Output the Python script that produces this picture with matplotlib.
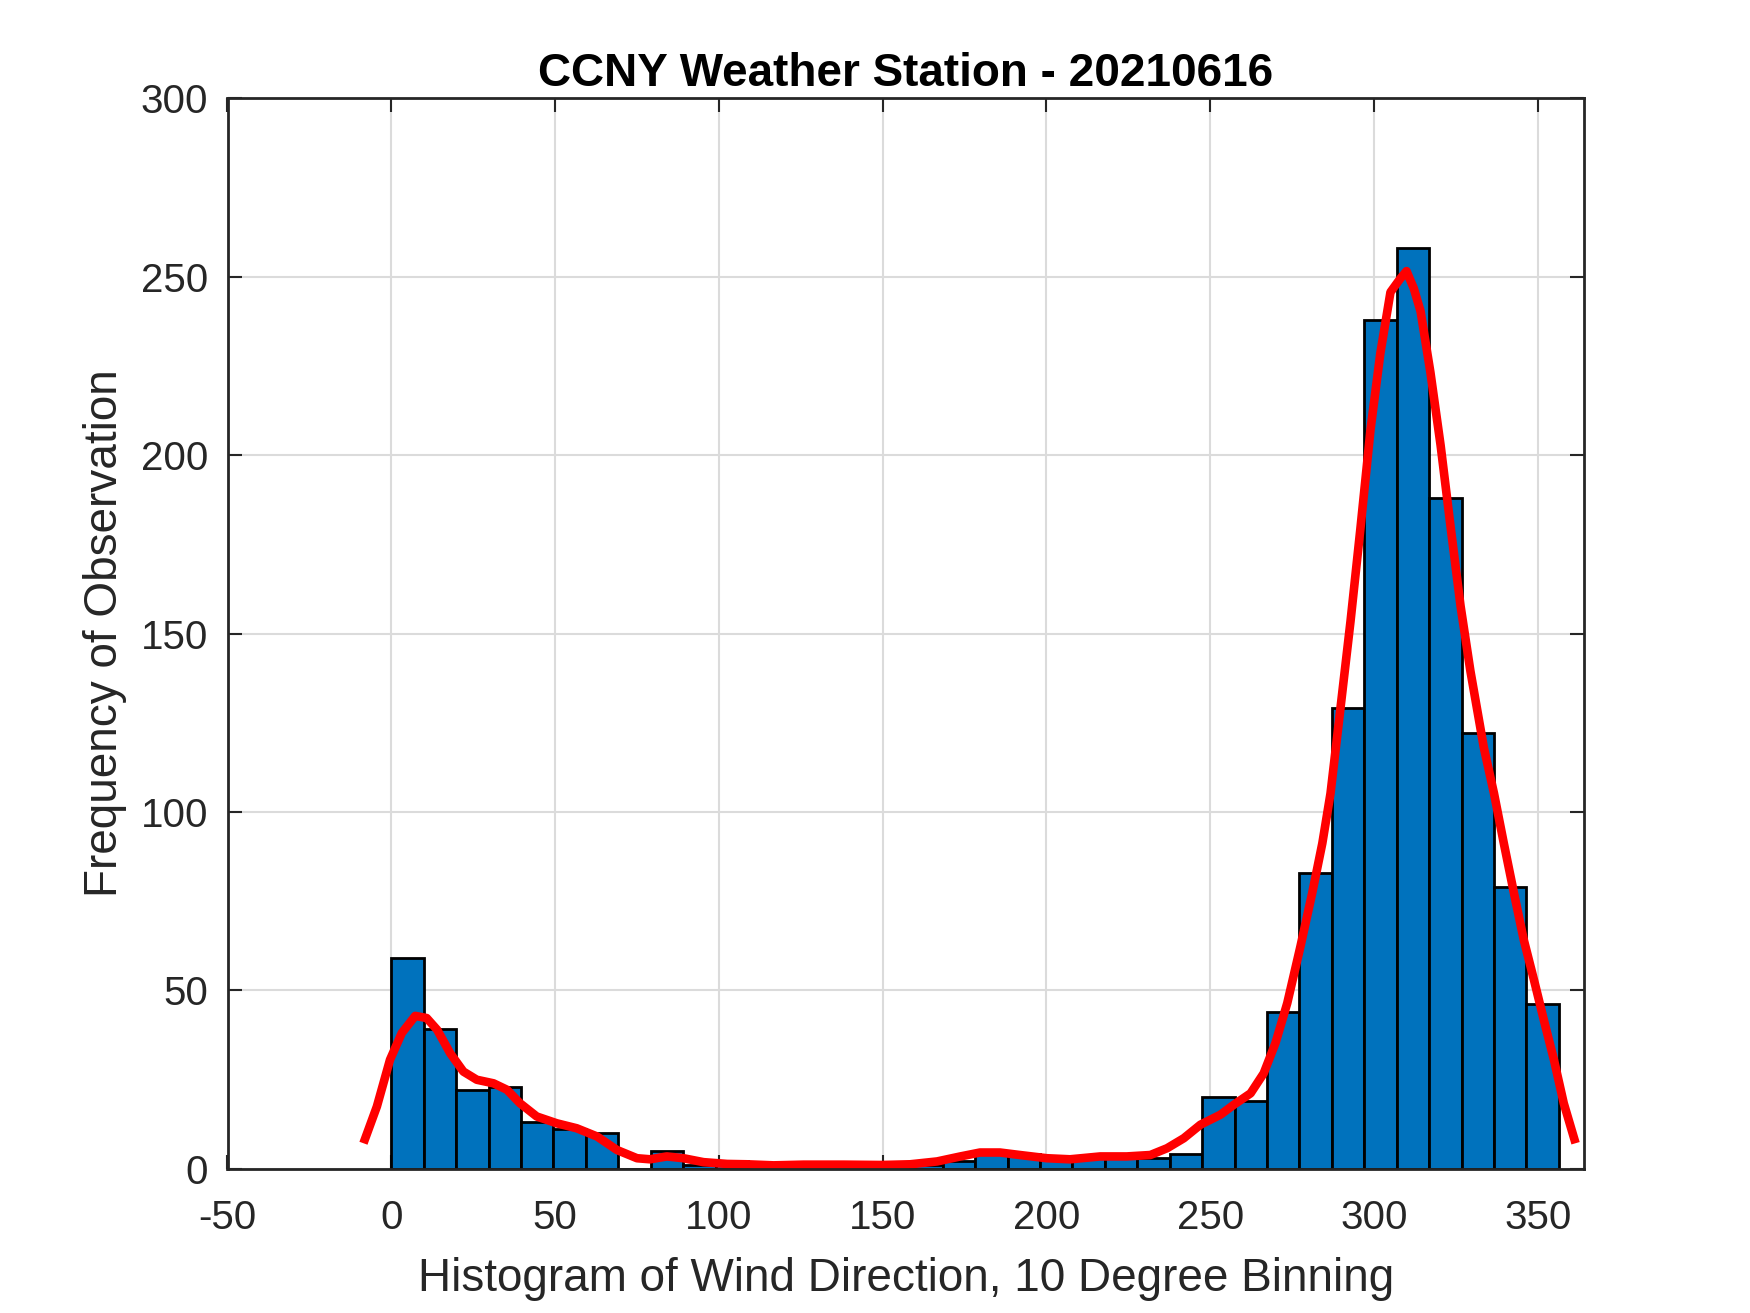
import matplotlib
matplotlib.use("Agg")
import matplotlib.pyplot as plt
import numpy as np

# ---- data ----
bin_start = 0.0
bin_width = 9.9
counts = [59, 39, 22, 23, 13, 11, 10, 0, 5, 1, 2, 0, 1, 1, 1, 0, 1, 2,
          5, 4, 3, 3, 4, 3, 4, 20, 19, 44, 83, 129, 238, 258, 188, 122, 79, 46]

curve_x = [-8.5, -4.4, -0.4, 3.2, 7.3, 10.8, 14.0, 18.0, 22.0, 26.1, 31.2, 35.3,
           39.3, 44.4, 50.5, 56.6, 62.8, 68.9, 75.0, 79.0, 84.1, 89.2, 95.3, 102.5,
           108.6, 116.7, 125.8, 138.1, 149.8, 158.4, 166.6, 173.7, 179.7, 185.8,
           191.9, 200.1, 207.2, 216.4, 224.5, 231.7, 236.8, 241.9, 247.0, 253.1,
           257.2, 262.3, 266.3, 269.9, 273.5, 277.5, 281.1, 284.2, 286.7, 289.7,
           292.8, 295.8, 298.9, 301.9, 305.0, 308.0, 309.9, 312.1, 314.2, 317.2,
           320.3, 323.3, 326.4, 329.4, 333.5, 336.6, 339.6, 342.7, 345.7, 348.8,
           351.8, 354.9, 357.9, 361.5]
curve_y = [7.1, 17.4, 30.5, 38.0, 42.8, 42.2, 38.9, 32.3, 27.2, 24.9, 23.9, 22.1,
           18.3, 14.6, 12.7, 11.3, 9.0, 5.2, 2.9, 2.6, 3.4, 2.9, 1.8, 1.3,
           1.2, 0.9, 1.1, 1.1, 1.0, 1.2, 2.0, 3.4, 4.5, 4.5,
           3.8, 2.9, 2.6, 3.4, 3.4, 3.8, 5.7, 8.5, 12.3, 15.1,
           17.9, 21.1, 26.7, 35.2, 46.4, 62.2, 77.2, 91.2, 105.2, 128.8,
           153.4, 179.2, 207.1, 228.5, 245.7, 249.5, 251.6, 246.8, 240.3, 223.2,
           202.8, 180.3, 157.7, 139.5, 118.0, 105.2, 91.2, 77.2, 64.1, 52.9,
           41.7, 30.5, 18.3, 7.1]

xticks = [-50, 0, 50, 100, 150, 200, 250, 300, 350]
yticks = [0, 50, 100, 150, 200, 250, 300]

title_text = "CCNY Weather Station - 20210616"
xlabel_text = "Histogram of Wind Direction, 10 Degree Binning"
ylabel_text = "Frequency of Observation"

# ---- plot ----
plt.rcParams['font.family'] = ['Liberation Sans', 'DejaVu Sans']
plt.rcParams['axes.unicode_minus'] = False
fig = plt.figure(figsize=(17.5, 13.13), dpi=100)
ax = fig.add_axes([0.13, 0.11, 0.775, 0.815])

text_col = '#262626'
left_edges = [bin_start + i * bin_width for i in range(len(counts))]
ax.bar(left_edges, counts, width=bin_width, align='edge', color='#0072BD',
       edgecolor='black', linewidth=2.0, zorder=2)
ax.plot(curve_x, curve_y, color='#FF0000', linewidth=6.2, zorder=3,
        solid_capstyle='butt', solid_joinstyle='round')

# grid behind bars
for xv in xticks:
    ax.axvline(xv, color='#dbdbdb', linewidth=1.5, zorder=0.5)
for yv in yticks:
    ax.axhline(yv, color='#dbdbdb', linewidth=1.5, zorder=0.5)

ax.set_xlim(-50, 364)
ax.set_ylim(0, 300)
ax.set_xticks(xticks)
ax.set_yticks(yticks)
ax.tick_params(axis='both', which='both', direction='in', length=10, width=1.5,
               colors=text_col, labelsize=29, top=True, right=True,
               labelcolor=text_col)
ax.tick_params(axis='x', pad=22)
ax.tick_params(axis='y', pad=14)
for s in ax.spines.values():
    s.set_color(text_col)
    s.set_linewidth(2.0)
    s.set_zorder(4)

ax.set_title(title_text, fontsize=33, fontweight='bold', color='black', pad=9)
ax.set_xlabel(xlabel_text, fontsize=33, color=text_col, labelpad=14)
ax.set_ylabel(ylabel_text, fontsize=33, color=text_col, labelpad=10)

fig.savefig('out.png', dpi=100, facecolor='white')
